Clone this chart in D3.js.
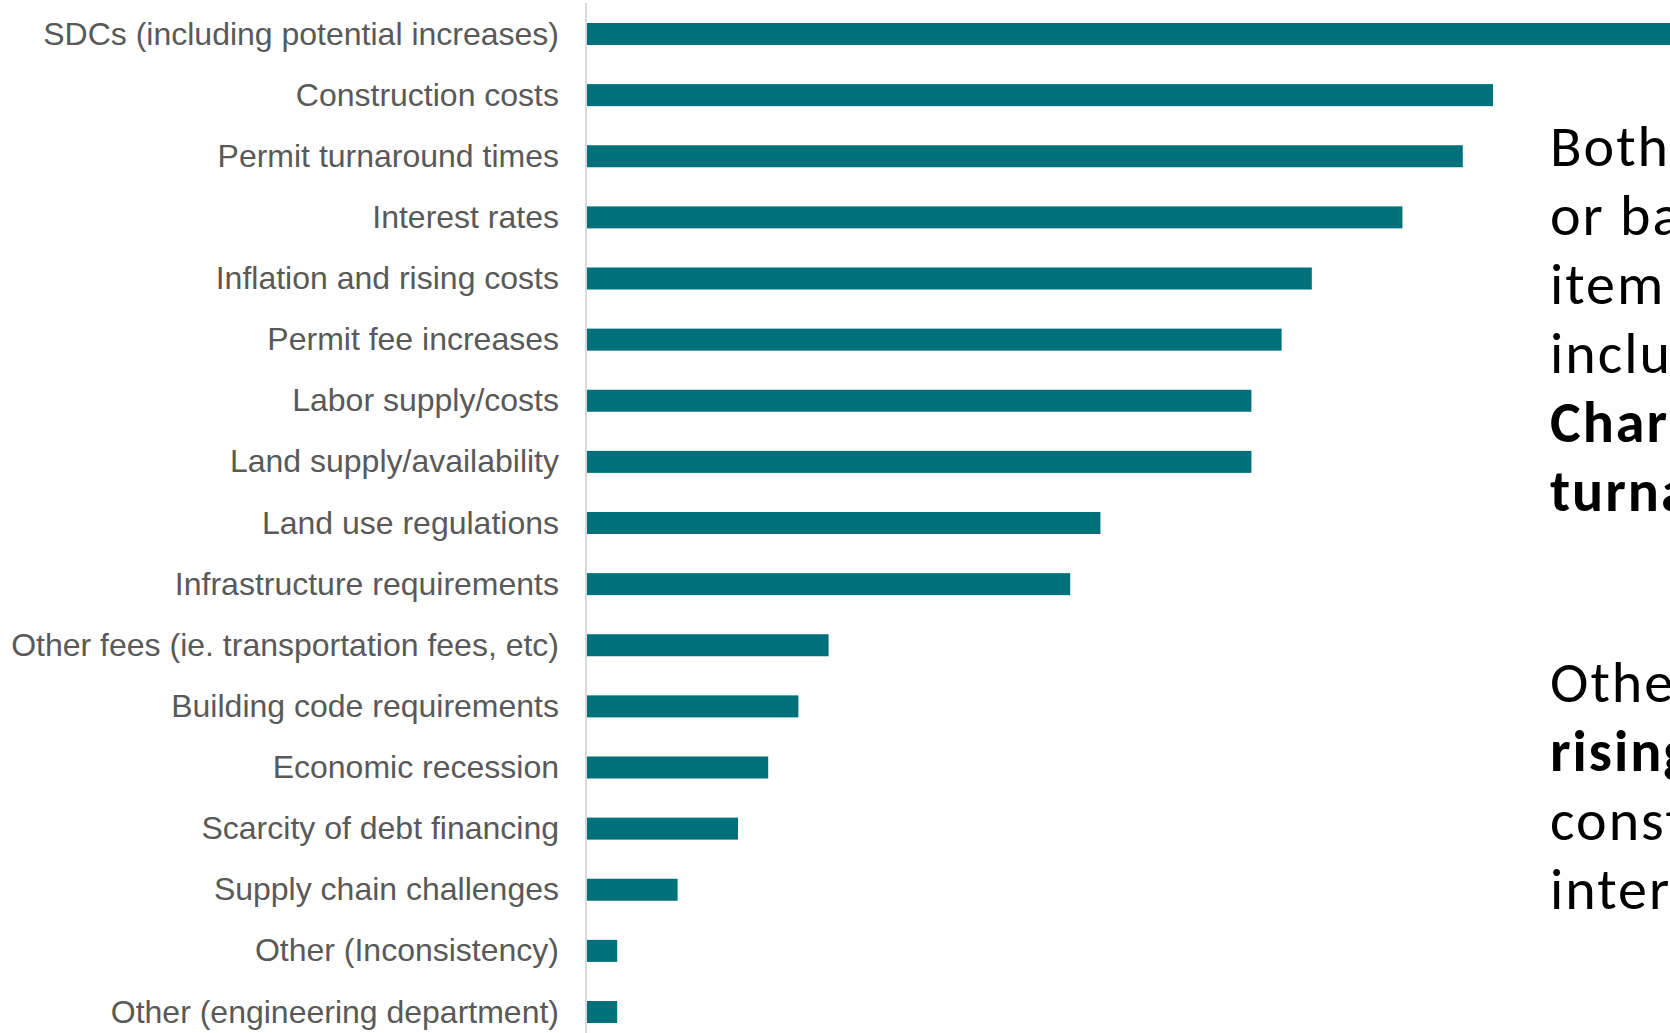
<!DOCTYPE html>
<html>
<head>
<meta charset="utf-8">
<script src="https://cdn.jsdelivr.net/npm/d3@7"></script>
<style>
    body { margin: 0; background: #fff; overflow: hidden; }
    svg { display: block; }
</style>
</head>
<body>
<div id="bar-chart"></div>
<script>
// barrier categories, top to bottom
const categories = [
    "SDCs (including potential increases)",
    "Construction costs",
    "Permit turnaround times",
    "Interest rates",
    "Inflation and rising costs",
    "Permit fee increases",
    "Labor supply/costs",
    "Land supply/availability",
    "Land use regulations",
    "Infrastructure requirements",
    "Other fees (ie. transportation fees, etc)",
    "Building code requirements",
    "Economic recession",
    "Scarcity of debt financing",
    "Supply chain challenges",
    "Other (Inconsistency)",
    "Other (engineering department)"
];

// number of responses per barrier (first bar runs off the slide)
const responses = [37, 30, 29, 27, 24, 23, 22, 22, 17, 16, 8, 7, 6, 5, 3, 1, 1];

const xDomain = [0, 40];

// text box on the right, cut off by the slide edge
const noteLines = [
    { text: "Both", bold: false },
    { text: "or ba", bold: false },
    { text: "item", bold: false },
    { text: "inclu", bold: false },
    { text: "Char", bold: true },
    { text: "turna", bold: true }
];
const noteLines2 = [
    { text: "Othe", bold: false },
    { text: "rising", bold: true },
    { text: "const", bold: false },
    { text: "inter", bold: false }
];

class BarChart {
    constructor(parentElement) {
        this.parentElement = parentElement;
        this.width = 1670;
        this.height = 1033;
        this.axisX = 586;
        this.step = 61.125;
        this.barColor = "#00707A";
        this.initVis();
    }

    initVis() {
        let vis = this;

        vis.svg = d3.select(vis.parentElement)
            .append("svg")
            .attr("width", vis.width)
            .attr("height", vis.height);

        // unit: ~30.2px per response
        vis.x = d3.scaleLinear()
            .domain(xDomain)
            .range([vis.axisX + 1, vis.axisX + 1 + 30.2 * xDomain[1]]);

        const firstCenter = 34;
        const pad = 0.64;
        const y0 = firstCenter - vis.step * (1 - pad) / 2 - vis.step * pad / 2;
        vis.y = d3.scaleBand()
            .domain(categories)
            .range([y0, y0 + vis.step * categories.length])
            .paddingInner(pad)
            .paddingOuter(pad / 2);

        vis.updateVis();
    }

    updateVis() {
        let vis = this;
        const data = categories.map((c, i) => ({ category: c, value: responses[i] }));

        // bars
        vis.svg.selectAll(".bar")
            .data(data)
            .enter()
            .append("rect")
            .attr("class", "bar")
            .attr("x", vis.x(0))
            .attr("y", d => vis.y(d.category))
            .attr("width", d => vis.x(d.value) - vis.x(0))
            .attr("height", vis.y.bandwidth())
            .attr("fill", vis.barColor);

        // vertical axis line
        vis.svg.append("line")
            .attr("x1", vis.axisX)
            .attr("x2", vis.axisX)
            .attr("y1", 3)
            .attr("y2", vis.height)
            .attr("stroke", "#D9D9D9")
            .attr("stroke-width", 2);

        // category labels
        vis.svg.selectAll(".label")
            .data(data)
            .enter()
            .append("text")
            .attr("class", "label")
            .attr("x", vis.axisX - 27)
            .attr("y", d => vis.y(d.category) + vis.y.bandwidth() / 2)
            .attr("dy", "0.33em")
            .attr("text-anchor", "end")
            .style("font-family", "'Liberation Sans', Arial, sans-serif")
            .style("font-size", "32px")
            .style("fill", "#595959")
            .text(d => d.category);

        // commentary text box
        const drawNote = (lines, firstBaseline) => {
            vis.svg.append("g")
                .selectAll("text")
                .data(lines)
                .enter()
                .append("text")
                .attr("x", 1550)
                .attr("y", (d, i) => firstBaseline + i * 69)
                .style("font-family", "Carlito, Calibri, Lato, sans-serif")
                .style("font-size", "58px")
                .style("letter-spacing", "2px")
                .style("font-weight", d => d.bold ? "bold" : "normal")
                .style("fill", "#000")
                .text(d => d.text);
        };
        drawNote(noteLines, 166);
        drawNote(noteLines2, 702);
    }
}

const chart = new BarChart("#bar-chart");
</script>
</body>
</html>
